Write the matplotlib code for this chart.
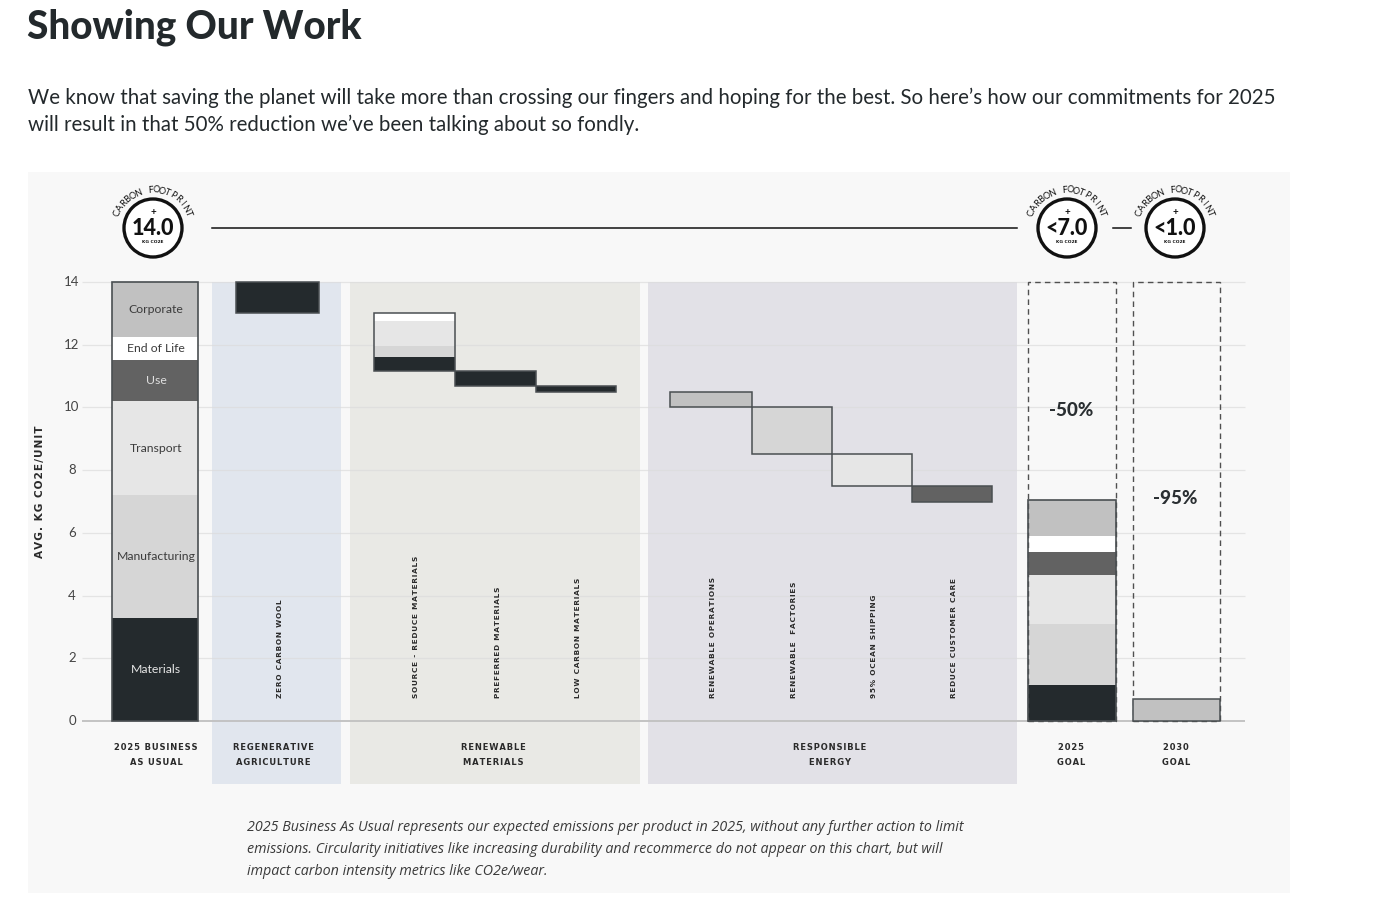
import matplotlib
matplotlib.use("Agg")
import matplotlib.pyplot as plt
from matplotlib.patches import Rectangle, Circle
import numpy as np

# ------------------------------------------------------------------ data
stack_names = ["Materials", "Manufacturing", "Transport", "Use", "End of Life", "Corporate"]
bau_2025 = [3.3, 3.9, 3.0, 1.3, 0.75, 1.75]
goal_2025 = [1.15, 1.95, 1.55, 0.75, 0.5, 1.15]
goal_2030 = [0.7]

lever_labels = ["ZERO CARBON WOOL", "SOURCE - REDUCE MATERIALS", "PREFERRED MATERIALS",
                "LOW CARBON MATERIALS", "RENEWABLE OPERATIONS", "RENEWABLE  FACTORIES",
                "95% OCEAN SHIPPING", "REDUCE CUSTOMER CARE"]
lever_reduction = [1.0, 1.85, 0.47, 0.18, 0.5, 1.5, 1.0, 0.5]
lever_component = ["Materials", "split", "Materials", "Materials",
                   "Corporate", "Manufacturing", "Transport", "Use"]
source_reduce_split = [0.46, 0.35, 0.81, 0.0, 0.23, 0.0]   # per stack component

group_labels = ["2025 BUSINESS\nAS USUAL", "REGENERATIVE\nAGRICULTURE", "RENEWABLE\nMATERIALS",
                "RESPONSIBLE\nENERGY", "2025\nGOAL", "2030\nGOAL"]
badge_values = ["14.0", "<7.0", "<1.0"]
goal_pct = ["-50%", "-95%"]
y_ticks = [0, 2, 4, 6, 8, 10, 12, 14]

title = "Showing Our Work"
intro = ["We know that saving the planet will take more than crossing our fingers and hoping for the best. So here\u2019s how our commitments for 2025",
         "will result in that 50% reduction we\u2019ve been talking about so fondly."]
footnote = ["2025 Business As Usual represents our expected emissions per product in 2025, without any further action to limit",
            "emissions. Circularity initiatives like increasing durability and recommerce do not appear on this chart, but will",
            "impact carbon intensity metrics like CO2e/wear."]

# ------------------------------------------------------------------ style / layout
W, H = 1400, 914
PX_PER_UNIT = 439 / 14.0
Y0_PX = 721           # pixel row of value 0
PANEL = (28, 172, 1290, 893)
colors = {"Materials": "#242a2d", "Manufacturing": "#d6d6d6", "Transport": "#e6e6e6",
          "Use": "#626262", "End of Life": "#ffffff", "Corporate": "#c1c1c1"}
label_colors = {"Materials": "#e6e6e6", "Use": "#e0e0e0"}
EDGE = "#4a4f52"

bau_span = (112, 198)
lever_spans = [(236, 319), (374, 455), (455, 536), (536, 616),
               (670, 752), (752, 832), (832, 912), (912, 992)]
goal_spans = [(1028, 1116), (1133, 1220)]
band_spans = [(212, 341, "#e1e6ee"), (350, 640, "#e9e9e5"), (648, 1017, "#e2e1e7")]
group_x = [156, 273, 493, 830, 1071, 1176]
badge_x = [153, 1067, 1175]
BADGE_Y, BADGE_R = 228, 29

SANS = ["Lato", "DejaVu Sans"]
WIDE = ["Open Sans", "DejaVu Sans"]
CAPS = ["DejaVu Sans"]


def spaced(s):
    return "\u200a".join(s)


fig = plt.figure(figsize=(W / 100, H / 100), dpi=100)
fig.patch.set_facecolor("white")

# background overlay in pixel coordinates
bg = fig.add_axes([0, 0, 1, 1], zorder=0)
bg.set_xlim(0, W); bg.set_ylim(H, 0); bg.axis("off")
bg.add_patch(Rectangle((PANEL[0], PANEL[1]), PANEL[2] - PANEL[0], PANEL[3] - PANEL[1],
                       facecolor="#f8f8f8", edgecolor="none"))

# title & intro
bg.text(27, 38, title, fontsize=27.8, fontweight="black", family=SANS, color="#23292c", va="baseline")
for i, line in enumerate(intro):
    bg.text(28, 103.5 + 27.5 * i, line, fontsize=14.78, family=SANS, color="#23292c", va="baseline")
for i, line in enumerate(footnote):
    bg.text(247, 831 + 22 * i, line, fontsize=10.3, family=WIDE, style="italic",
            color="#3a3a3a", va="baseline")

# ------------------------------------------------------------------ main axes (x in px, y in data)
ax_bottom = (H - PANEL[3]) / H
ax_height = (PANEL[3] - PANEL[1]) / H
ax = fig.add_axes([0, ax_bottom, 1, ax_height], zorder=1)
ax.set_facecolor("none")
ax.set_xlim(0, W)
ax.set_ylim(-(PANEL[3] - Y0_PX) / PX_PER_UNIT, 14 + (282 - PANEL[1]) / PX_PER_UNIT)
ax.axis("off")

band_bottom = -2.0
for x0, x1, c in band_spans:
    ax.add_patch(Rectangle((x0, band_bottom), x1 - x0, 14 - band_bottom,
                           facecolor=c, edgecolor="none", zorder=0.5))

# grid
ax.hlines(y_ticks[1:], 82, 1245, color="#dcdcdc", lw=0.9, alpha=0.7, zorder=1)
ax.hlines([0], 82, 1245, color="#c3c3c3", lw=1.4, zorder=1)
for t in y_ticks:
    ax.text(72, t, f"{t}", ha="center", va="center", fontsize=9.5, family=SANS, color="#444444")
ax.text(40, 7.3, spaced("AVG. KG CO2E/UNIT"), rotation=90, ha="center", va="center",
        fontsize=7.6, fontweight="bold", family=CAPS, color="#2a2a2a")


def draw_stack(span, values, labels=False, outline=True):
    x0, x1 = span
    bottom = 0
    for name, v in zip(stack_names, values):
        ax.add_patch(Rectangle((x0, bottom), x1 - x0, v, facecolor=colors[name],
                               edgecolor="none", zorder=2))
        if labels:
            ax.text((x0 + x1) / 2 + 1, bottom + v / 2, name, ha="center", va="center",
                    fontsize=8.8, family=SANS, color=label_colors.get(name, "#3c3c3c"), zorder=3)
        bottom += v
    if outline:
        ax.add_patch(Rectangle((x0, 0), x1 - x0, bottom, facecolor="none",
                               edgecolor=EDGE, lw=1.2, zorder=3))
    return bottom


total = draw_stack(bau_span, bau_2025, labels=True)

# waterfall of levers
level = total
for (x0, x1), red, comp in zip(lever_spans, lever_reduction, lever_component):
    bottom = level - red
    if comp == "split":
        b = bottom
        for name, v in zip(stack_names, source_reduce_split):
            if v > 0:
                ax.add_patch(Rectangle((x0, b), x1 - x0, v, facecolor=colors[name],
                                       edgecolor="none", zorder=2))
                b += v
    else:
        ax.add_patch(Rectangle((x0, bottom), x1 - x0, red, facecolor=colors[comp],
                               edgecolor="none", zorder=2))
    ax.add_patch(Rectangle((x0, bottom), x1 - x0, red, facecolor="none",
                           edgecolor=EDGE, lw=1.1, zorder=3))
    level = bottom

# rotated lever labels
for (x0, x1), lab in zip(lever_spans, lever_labels):
    ax.text((x0 + x1) / 2 + 2, 0.73, spaced(lab), rotation=90, ha="center", va="bottom",
            fontsize=5.3, fontweight="bold", family=CAPS, color="#2a2a2a", zorder=3)

# goals
draw_stack(goal_spans[0], goal_2025)
x0, x1 = goal_spans[1]
ax.add_patch(Rectangle((x0, 0), x1 - x0, goal_2030[0], facecolor=colors["Corporate"],
                       edgecolor=EDGE, lw=1.1, zorder=3))
for (x0, x1) in goal_spans:
    ax.add_patch(Rectangle((x0, 0), x1 - x0, 14, facecolor="none", edgecolor="#505050",
                           lw=1.0, ls=(0, (4, 3)), zorder=2.5))
ax.text(sum(goal_spans[0]) / 2 - 1, 9.9, goal_pct[0], ha="center", va="center",
        fontsize=13.5, fontweight="black", family=SANS, color="#2a2f32", zorder=3)
ax.text(sum(goal_spans[1]) / 2 - 1, 7.1, goal_pct[1], ha="center", va="center",
        fontsize=13.5, fontweight="black", family=SANS, color="#2a2f32", zorder=3)

# group labels
for gx, lab in zip(group_x, group_labels):
    ax.text(gx, -1.07, "\n".join(spaced(p) for p in lab.split("\n")), ha="center", va="center",
            fontsize=6.0, fontweight="bold", family=CAPS, color="#2a2a2a", linespacing=1.85, zorder=3)

# ------------------------------------------------------------------ badges & top line
ov = fig.add_axes([0, 0, 1, 1], zorder=2)
ov.set_xlim(0, W); ov.set_ylim(H, 0); ov.axis("off"); ov.set_facecolor("none")
ov.plot([212, 1017], [BADGE_Y, BADGE_Y], color="#111111", lw=1.1)
ov.plot([1113, 1131], [BADGE_Y, BADGE_Y], color="#111111", lw=1.1)

arc_text = "CARBON FOOTPRINT"
for bx, val in zip(badge_x, badge_values):
    ov.add_patch(Circle((bx, BADGE_Y), BADGE_R, facecolor="white", edgecolor="#111111", lw=2.4))
    ov.text(bx, BADGE_Y - 15, "+", ha="center", va="center", fontsize=7,
            fontweight="bold", family=SANS, color="#111111")
    ov.text(bx, BADGE_Y + 0.5, val, ha="center", va="center", fontsize=15.5,
            fontweight="black", family=SANS, color="#111111")
    ov.text(bx, BADGE_Y + 14, "KG CO2E", ha="center", va="center", fontsize=3.2,
            fontweight="bold", family=CAPS, color="#111111")
    n = len(arc_text)
    angs = np.linspace(158, 22, n)
    for ch, a in zip(arc_text, angs):
        r = BADGE_R + 9
        xx = bx + r * np.cos(np.radians(a))
        yy = BADGE_Y - r * np.sin(np.radians(a))
        ov.text(xx, yy, ch, rotation=a - 90, ha="center", va="center", fontsize=6.6,
                family=SANS, color="#111111")

fig.savefig("out.png", dpi=100)
